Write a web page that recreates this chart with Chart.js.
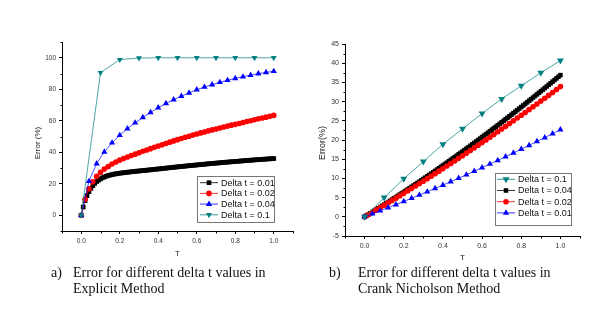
<!DOCTYPE html>
<html><head><meta charset="utf-8">
<script src="https://cdn.jsdelivr.net/npm/chart.js@4.4.1/dist/chart.umd.min.js"></script>
<style>
html,body{margin:0;padding:0;background:#fff;width:608px;height:314px;overflow:hidden;position:relative}
canvas{position:absolute;top:0}
#ca{left:0}
#cb{left:304px}
.yt{position:absolute;white-space:nowrap;color:#222;font-family:"Liberation Sans",Arial,sans-serif;transform:translate(-50%,-50%) rotate(-90deg)}
.cap{position:absolute;white-space:nowrap;color:#111;font:14px/16px "Liberation Serif","Times New Roman",serif}
</style>
</head><body>
<canvas id="ca" width="304" height="270"></canvas>
<canvas id="cb" width="304" height="270"></canvas>
<div class="yt" style="left:37px;top:143px;font-size:8px">Error (%)</div>
<div class="yt" style="left:322px;top:143px;font-size:9px">Error(%)</div>
<div class="cap" style="left:51px;top:265px">a)</div>
<div class="cap" style="left:73px;top:265px">Error for different delta t values in<br>Explicit Method</div>
<div class="cap" style="left:329px;top:265px">b)</div>
<div class="cap" style="left:358px;top:265px">Error for different delta t values in<br>Crank Nicholson Method</div>
<script>
// ---------- data ----------
const tStep001 = [0,0.01,0.02,0.03,0.04,0.05,0.06,0.07,0.08,0.09,0.1,0.11,0.12,0.13,0.14,0.15,0.16,0.17,0.18,0.19,0.2,0.21,0.22,0.23,0.24,0.25,0.26,0.27,0.28,0.29,0.3,0.31,0.32,0.33,0.34,0.35,0.36,0.37,0.38,0.39,0.4,0.41,0.42,0.43,0.44,0.45,0.46,0.47,0.48,0.49,0.5,0.51,0.52,0.53,0.54,0.55,0.56,0.57,0.58,0.59,0.6,0.61,0.62,0.63,0.64,0.65,0.66,0.67,0.68,0.69,0.7,0.71,0.72,0.73,0.74,0.75,0.76,0.77,0.78,0.79,0.8,0.81,0.82,0.83,0.84,0.85,0.86,0.87,0.88,0.89,0.9,0.91,0.92,0.93,0.94,0.95,0.96,0.97,0.98,0.99,1];
const tStep002 = [0,0.02,0.04,0.06,0.08,0.1,0.12,0.14,0.16,0.18,0.2,0.22,0.24,0.26,0.28,0.3,0.32,0.34,0.36,0.38,0.4,0.42,0.44,0.46,0.48,0.5,0.52,0.54,0.56,0.58,0.6,0.62,0.64,0.66,0.68,0.7,0.72,0.74,0.76,0.78,0.8,0.82,0.84,0.86,0.88,0.9,0.92,0.94,0.96,0.98,1];
const tStep004 = [0,0.04,0.08,0.12,0.16,0.2,0.24,0.28,0.32,0.36,0.4,0.44,0.48,0.52,0.56,0.6,0.64,0.68,0.72,0.76,0.8,0.84,0.88,0.92,0.96,1];
const tStep01 = [0,0.1,0.2,0.3,0.4,0.5,0.6,0.7,0.8,0.9,1];

// (a) Explicit method
const explicitDt001 = [0,5.2,9.3,12.4,15.0,17.1,18.8,20.2,21.4,22.3,23.1,23.8,24.3,24.8,25.2,25.5,25.8,26.1,26.3,26.5,26.7,26.85,27.0,27.15,27.3,27.45,27.6,27.7,27.85,28.0,28.1,28.25,28.35,28.5,28.6,28.75,28.85,29.0,29.1,29.25,29.4,29.5,29.65,29.8,29.9,30.05,30.2,30.3,30.45,30.6,30.7,30.85,30.95,31.1,31.2,31.35,31.45,31.6,31.7,31.8,31.95,32.05,32.2,32.3,32.4,32.55,32.65,32.75,32.9,33.0,33.1,33.2,33.3,33.45,33.55,33.65,33.75,33.85,33.95,34.05,34.15,34.25,34.35,34.45,34.55,34.65,34.75,34.85,34.95,35.05,35.15,35.25,35.3,35.4,35.5,35.6,35.65,35.75,35.85,35.9,36.0];
const explicitDt002 = [0,10.2,16.8,21.3,24.7,27.3,29.3,31.0,32.5,33.8,35.0,36.0,37.0,37.9,38.8,39.7,40.6,41.4,42.3,43.1,44.0,44.8,45.6,46.4,47.2,48.0,48.7,49.5,50.2,50.9,51.6,52.3,52.9,53.6,54.2,54.8,55.4,56.0,56.6,57.2,57.7,58.3,58.9,59.5,60.0,60.6,61.2,61.7,62.3,62.8,63.4];
const explicitDt004 = [0,21.6,32.8,40.2,46.0,50.8,55.0,58.7,62.1,65.3,68.3,71.0,73.4,75.6,77.7,79.7,81.4,82.9,84.4,85.7,86.9,87.9,89.0,89.9,90.7,91.4];
const explicitDt01 = [0,90.5,98.8,99.8,100,100,100,100,100,100,100];

// (b) Crank Nicholson method
const cnDt01 = [0,5.0,9.9,14.4,18.9,22.9,26.9,30.7,34.1,37.5,40.7];
const cnDt004 = [0,0.31,0.62,0.94,1.25,1.57,1.89,2.21,2.53,2.85,3.17,3.49,3.82,4.14,4.47,4.80,5.12,5.45,5.79,6.12,6.45,6.79,7.12,7.46,7.80,8.14,8.48,8.82,9.16,9.51,9.85,10.20,10.55,10.89,11.24,11.60,11.95,12.30,12.65,13.01,13.37,13.73,14.08,14.45,14.81,15.17,15.53,15.90,16.27,16.63,17.00,17.37,17.74,18.11,18.49,18.86,19.24,19.61,19.99,20.37,20.75,21.13,21.51,21.90,22.28,22.67,23.05,23.44,23.83,24.22,24.61,25.00,25.40,25.79,26.19,26.59,26.99,27.39,27.79,28.19,28.59,29.00,29.40,29.81,30.22,30.63,31.04,31.45,31.86,32.27,32.69,33.10,33.52,33.94,34.36,34.78,35.20,35.62,36.05,36.47,36.90];
const cnDt002 = [0,0.60,1.19,1.80,2.40,3.01,3.62,4.24,4.86,5.48,6.11,6.74,7.37,8.01,8.65,9.29,9.93,10.58,11.24,11.89,12.55,13.21,13.88,14.55,15.22,15.90,16.58,17.26,17.95,18.64,19.33,20.03,20.73,21.43,22.14,22.85,23.56,24.28,25.00,25.72,26.45,27.18,27.91,28.65,29.39,30.13,30.88,31.63,32.38,33.14,33.90];
const cnDt001 = [0,0.78,1.57,2.37,3.18,4.00,4.83,5.67,6.52,7.39,8.26,9.15,10.05,10.95,11.87,12.80,13.74,14.70,15.66,16.63,17.62,18.61,19.62,20.63,21.66,22.70];

// tick values
const xTicks = [0,0.2,0.4,0.6,0.8,1.0];
const xMinor = [-0.1,0.1,0.3,0.5,0.7,0.9,1.1];
const yTicksA = [0,20,40,60,80,100];
const yMinorA = [-10,10,30,50,70,90,110];
const yTicksB = [-5,0,5,10,15,20,25,30,35,40,45];
const yMinorB = [-2.5,2.5,7.5,12.5,17.5,22.5,27.5,32.5,37.5,42.5];

// ---------- helpers ----------
const pts = (xs, ys) => xs.map((x, i) => ({x: x, y: ys[i]}));
const SANS = '"Liberation Sans", Arial, sans-serif';

function drawMarker(ctx, style, r, rot, x, y, color) {
  ctx.fillStyle = color;
  ctx.beginPath();
  if (style === 'rect') {
    const s = r * Math.SQRT1_2;
    ctx.rect(x - s, y - s, 2 * s, 2 * s);
  } else if (style === 'circle') {
    ctx.arc(x, y, r, 0, Math.PI * 2);
  } else {
    const d = rot === 180 ? -1 : 1;
    ctx.moveTo(x, y - d * r);
    ctx.lineTo(x + r * 0.866, y + d * r * 0.5);
    ctx.lineTo(x - r * 0.866, y + d * r * 0.5);
    ctx.closePath();
  }
  ctx.fill();
}

const minorTicksPlugin = {
  id: 'minorTicks',
  afterDraw(chart, args, opts) {
    const ctx = chart.ctx, ca = chart.chartArea;
    const xs = chart.scales.x, ys = chart.scales.y;
    ctx.save();
    ctx.strokeStyle = '#000';
    ctx.lineWidth = 1;
    const b = Math.round(ca.bottom) + 0.5, l = Math.round(ca.left) + 0.5;
    opts.x.forEach(v => {
      const p = Math.round(xs.getPixelForValue(v)) + 0.5;
      ctx.beginPath(); ctx.moveTo(p, b); ctx.lineTo(p, b + opts.len); ctx.stroke();
    });
    opts.y.forEach(v => {
      const p = Math.round(ys.getPixelForValue(v)) + 0.5;
      ctx.beginPath(); ctx.moveTo(l, p); ctx.lineTo(l - opts.len, p); ctx.stroke();
    });
    ctx.restore();
  }
};

const boxLegendPlugin = {
  id: 'boxLegend',
  afterDraw(chart, args, o) {
    const ctx = chart.ctx;
    ctx.save();
    ctx.fillStyle = '#fff';
    ctx.fillRect(o.box[0], o.box[1], o.box[2], o.box[3]);
    ctx.strokeStyle = '#777';
    ctx.lineWidth = 1;
    ctx.strokeRect(o.box[0] + 0.5, o.box[1] + 0.5, o.box[2], o.box[3]);
    o.order.forEach((di, k) => {
      const ds = chart.data.datasets[di];
      const y = o.rows[k];
      ctx.strokeStyle = ds.borderColor;
      ctx.lineWidth = 0.8;
      ctx.beginPath(); ctx.moveTo(o.seg[0], y); ctx.lineTo(o.seg[1], y); ctx.stroke();
      drawMarker(ctx, ds.pointStyle, ds.pointRadius, ds.pointRotation || 0, (o.seg[0] + o.seg[1]) / 2, y, ds.pointBackgroundColor);
      ctx.fillStyle = '#111';
      ctx.font = o.fontSize + 'px ' + SANS;
      ctx.textBaseline = 'middle';
      ctx.textAlign = 'left';
      ctx.fillText(ds.label, o.textX, y + 0.5);
    });
    ctx.restore();
  }
};

function mkDs(label, data, color, style, r, rot, order) {
  return {
    label: label, data: data, borderColor: color, backgroundColor: color,
    borderWidth: 0.7, pointStyle: style, pointRadius: r, pointRotation: rot,
    pointBackgroundColor: color, pointBorderColor: color, pointBorderWidth: 0,
    pointHoverRadius: r, tension: 0, order: order
  };
}

function axisCfg(min, max, ticks, fmt, fontSize, fitFn, titleCfg) {
  return {
    type: 'linear', min: min, max: max,
    afterBuildTicks: s => { s.ticks = ticks.map(v => ({value: v})); },
    afterFit: fitFn,
    grid: {display: true, drawOnChartArea: false, drawTicks: true, tickLength: 3, color: '#000', tickColor: '#000', lineWidth: 1},
    border: {display: true, color: '#000', width: 1},
    ticks: {color: '#333', padding: 3, autoSkip: false, maxRotation: 0, font: {family: SANS, size: fontSize}, callback: fmt},
    title: titleCfg || {display: false}
  };
}

// ---------- chart (a) ----------
new Chart(document.getElementById('ca'), {
  type: 'scatter',
  data: {datasets: [
    mkDs('Delta t = 0.01', pts(tStep001, explicitDt001), '#000000', 'rect', 3.3, 0, 4),
    mkDs('Delta t = 0.02', pts(tStep002, explicitDt002), '#ff0000', 'circle', 2.8, 0, 3),
    mkDs('Delta t = 0.04', pts(tStep004, explicitDt004), '#0000ff', 'triangle', 3.6, 0, 2),
    mkDs('Delta t = 0.1', pts(tStep01, explicitDt01), '#008080', 'triangle', 3.4, 180, 1)
  ].map(d => Object.assign(d, {showLine: true}))},
  options: {
    responsive: false, animation: false, devicePixelRatio: 1,
    layout: {padding: {left: 0, top: 42, right: 11, bottom: 0}},
    scales: {
      x: axisCfg(-0.1, 1.1, xTicks, v => v.toFixed(1), 6.5, s => { s.height = 39; },
        {display: true, text: 'T', color: '#222', font: {family: SANS, size: 8}, padding: {top: 0, bottom: 11}}),
      y: axisCfg(-10, 110, yTicksA, v => String(v), 6.5, s => { s.width = 62; })
    },
    plugins: {
      legend: {display: false}, tooltip: {enabled: false},
      minorTicks: {x: xMinor, y: yMinorA, len: 2},
      boxLegend: {box: [197, 176, 77, 46], rows: [182.7, 193.4, 204.1, 214.8], seg: [200, 218], textX: 221, fontSize: 9, order: [0, 1, 2, 3]}
    }
  },
  plugins: [minorTicksPlugin, boxLegendPlugin]
});

// ---------- chart (b) ----------
new Chart(document.getElementById('cb'), {
  type: 'scatter',
  data: {datasets: [
    mkDs('Delta t = 0.1', pts(tStep01, cnDt01), '#008080', 'triangle', 4.0, 180, 1),
    mkDs('Delta t = 0.04', pts(tStep001, cnDt004), '#000000', 'rect', 3.2, 0, 4),
    mkDs('Delta t = 0.02', pts(tStep002, cnDt002), '#ff0000', 'circle', 2.8, 0, 3),
    mkDs('Delta t = 0.01', pts(tStep004, cnDt001), '#0000ff', 'triangle', 3.6, 0, 2)
  ].map(d => Object.assign(d, {showLine: true}))},
  options: {
    responsive: false, animation: false, devicePixelRatio: 1,
    layout: {padding: {left: 0, top: 44, right: 28, bottom: 0}},
    scales: {
      x: axisCfg(-0.1, 1.1, xTicks, v => v.toFixed(1), 7, s => { s.height = 34; },
        {display: true, text: 'T', color: '#222', font: {family: SANS, size: 8}, padding: {top: 0, bottom: 7}}),
      y: axisCfg(-5, 45, yTicksB, v => String(v), 7, s => { s.width = 41; })
    },
    plugins: {
      legend: {display: false}, tooltip: {enabled: false},
      minorTicks: {x: xMinor, y: yMinorB, len: 2},
      boxLegend: {box: [191, 173, 76, 52], rows: [179.3, 190.5, 201.7, 212.9], seg: [193, 211], textX: 214, fontSize: 9, order: [0, 1, 2, 3]}
    }
  },
  plugins: [minorTicksPlugin, boxLegendPlugin]
});
</script>
</body></html>
